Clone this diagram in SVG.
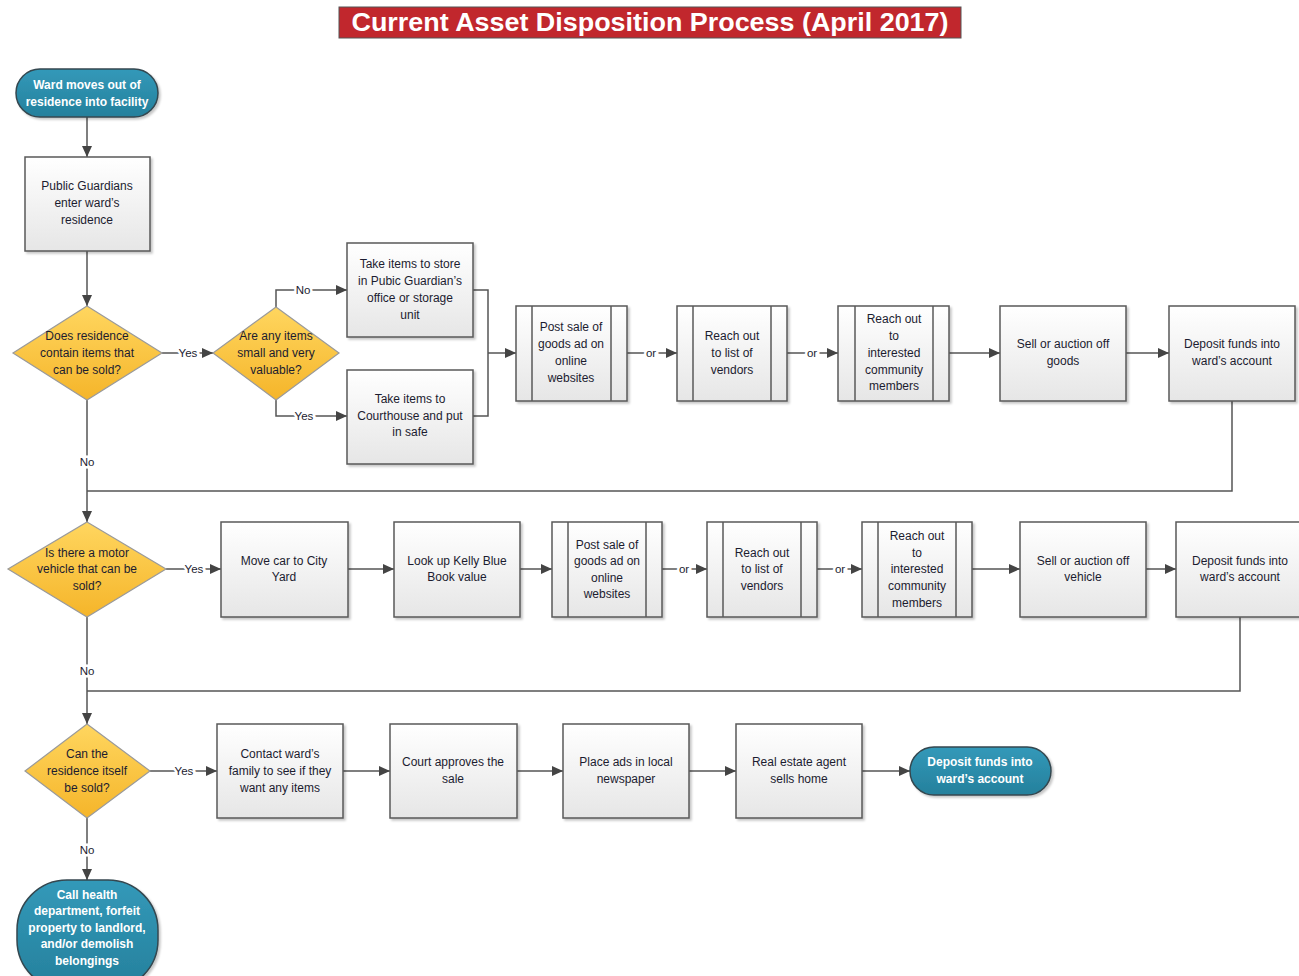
<svg xmlns="http://www.w3.org/2000/svg" width="1299" height="976" viewBox="0 0 1299 976">
  <style>
    .box { fill: url(#boxGrad); stroke: #595959; stroke-width: 1.5; filter: url(#shadow); }
    .band { fill: none; stroke: #595959; stroke-width: 1.5; }
    .dia { fill: url(#diaGrad); stroke: #9a9a9a; stroke-width: 1.2; }
    .term { fill: url(#termGrad); stroke: #34474f; stroke-width: 1.5; filter: url(#shadow); }
    .t { font-family: "Liberation Sans", Arial, sans-serif; font-size: 12px; fill: #1c1c30; text-anchor: middle; }
    .tw { font-family: "Liberation Sans", Arial, sans-serif; font-size: 12px; font-weight: bold; fill: #ffffff; text-anchor: middle; }
    .lbl { font-family: "Liberation Sans", Arial, sans-serif; font-size: 11.5px; fill: #1c1c30; text-anchor: middle; stroke: #ffffff; stroke-width: 5px; paint-order: stroke; }
    .c { fill: none; stroke: #555555; stroke-width: 1.5; }
    .a { marker-end: url(#arrow); }
  </style>
  <defs>
    <linearGradient id="boxGrad" x1="0" y1="0" x2="0" y2="1">
      <stop offset="0" stop-color="#ffffff"/>
      <stop offset="1" stop-color="#e6e6e6"/>
    </linearGradient>
    <linearGradient id="diaGrad" x1="0" y1="0" x2="0" y2="1">
      <stop offset="0" stop-color="#ffd65f"/>
      <stop offset="1" stop-color="#f5b52a"/>
    </linearGradient>
    <linearGradient id="termGrad" x1="0" y1="0" x2="0" y2="1">
      <stop offset="0" stop-color="#3399b9"/>
      <stop offset="1" stop-color="#25809c"/>
    </linearGradient>
    <filter id="shadow" x="-10%" y="-10%" width="130%" height="130%">
      <feDropShadow dx="2" dy="2" stdDeviation="1.2" flood-color="#000000" flood-opacity="0.22"/>
    </filter>
    <marker id="arrow" markerUnits="userSpaceOnUse" markerWidth="12" markerHeight="10" refX="11" refY="5" orient="auto">
      <path d="M0,0 L11,5 L0,10 z" fill="#444444"/>
    </marker>
  </defs>

  <rect width="1299" height="976" fill="#ffffff"/>

  <!-- title banner -->
  <g id="title">
    <rect x="339" y="7" width="622" height="31" fill="#c1272d" stroke="#555555" stroke-width="1"/>
    <text x="650" y="31" font-family="'Liberation Sans', Arial, sans-serif" font-size="25" font-weight="bold" fill="#ffffff" text-anchor="middle" textLength="597" lengthAdjust="spacingAndGlyphs">Current Asset Disposition Process (April 2017)</text>
  </g>

  <!-- connectors -->
  <g id="connectors">
    <path class="c a" d="M87,117 V157"/>
    <path class="c a" d="M87,251 V306"/>
    <path class="c a" d="M162,353 H213"/>
    <path class="c a" d="M276,307 V290 H347"/>
    <path class="c a" d="M276,400 V416 H347"/>
    <path class="c" d="M473,290 H488 V416 H473"/>
    <path class="c a" d="M488,353 H516"/>
    <path class="c a" d="M627,353 H677"/>
    <path class="c a" d="M787,353 H838"/>
    <path class="c a" d="M949,353 H1000"/>
    <path class="c a" d="M1126,353 H1169"/>
    <path class="c" d="M1232,401 V491 H87"/>
    <path class="c a" d="M87,400 V522"/>

    <path class="c a" d="M166,569 H221"/>
    <path class="c a" d="M348,569 H394"/>
    <path class="c a" d="M520,569 H552"/>
    <path class="c a" d="M662,569 H707"/>
    <path class="c a" d="M817,569 H862"/>
    <path class="c a" d="M972,569 H1020"/>
    <path class="c a" d="M1146,569 H1176"/>
    <path class="c" d="M1240,617 V691 H87"/>
    <path class="c a" d="M87,617 V724"/>

    <path class="c a" d="M150,771 H217"/>
    <path class="c a" d="M343,771 H390"/>
    <path class="c a" d="M517,771 H563"/>
    <path class="c a" d="M689,771 H736"/>
    <path class="c a" d="M862,771 H910"/>
    <path class="c a" d="M87,818 V880"/>

    <text class="lbl" x="188" y="357">Yes</text>
    <text class="lbl" x="303" y="294">No</text>
    <text class="lbl" x="304" y="420">Yes</text>
    <text class="lbl" x="651" y="357">or</text>
    <text class="lbl" x="812" y="357">or</text>
    <text class="lbl" x="87" y="466">No</text>
    <text class="lbl" x="194" y="573">Yes</text>
    <text class="lbl" x="684" y="573">or</text>
    <text class="lbl" x="840" y="573">or</text>
    <text class="lbl" x="87" y="675">No</text>
    <text class="lbl" x="184" y="775">Yes</text>
    <text class="lbl" x="87" y="854">No</text>
  </g>

  <!-- start -->
  <g id="start">
    <rect class="term" x="16" y="69" width="142" height="48" rx="24"/>
    <text class="tw" x="87" y="89">Ward moves out of</text>
    <text class="tw" x="87" y="106">residence into facility</text>
  </g>

  <g id="enter-residence">
    <rect class="box" x="25" y="157" width="125" height="94"/>
    <text class="t" x="87" y="190">Public Guardians</text>
    <text class="t" x="87" y="207">enter ward’s</text>
    <text class="t" x="87" y="224">residence</text>
  </g>

  <g id="items-to-sell">
    <polygon class="dia" points="87,306 162,353 87,400 13,353"/>
    <text class="t" x="87" y="340">Does residence</text>
    <text class="t" x="87" y="357">contain items that</text>
    <text class="t" x="87" y="374">can be sold?</text>
  </g>

  <g id="small-valuable">
    <polygon class="dia" points="276,307 339,353 276,400 213,353"/>
    <text class="t" x="276" y="340">Are any items</text>
    <text class="t" x="276" y="357">small and very</text>
    <text class="t" x="276" y="374">valuable?</text>
  </g>

  <g id="store-items">
    <rect class="box" x="347" y="243" width="126" height="94"/>
    <text class="t" x="410" y="268">Take items to store</text>
    <text class="t" x="410" y="285">in Pubic Guardian’s</text>
    <text class="t" x="410" y="302">office or storage</text>
    <text class="t" x="410" y="319">unit</text>
  </g>

  <g id="courthouse-safe">
    <rect class="box" x="347" y="370" width="126" height="94"/>
    <text class="t" x="410" y="403">Take items to</text>
    <text class="t" x="410" y="420">Courthouse and put</text>
    <text class="t" x="410" y="436">in safe</text>
  </g>

  <g id="goods-post-online">
    <rect class="box" x="516" y="306" width="111" height="95"/>
    <path class="band" d="M532,306 V401 M611,306 V401"/>
    <text class="t" x="571" y="331">Post sale of</text>
    <text class="t" x="571" y="348">goods ad on</text>
    <text class="t" x="571" y="365">online</text>
    <text class="t" x="571" y="382">websites</text>
  </g>

  <g id="goods-vendors">
    <rect class="box" x="677" y="306" width="110" height="95"/>
    <path class="band" d="M693,306 V401 M771,306 V401"/>
    <text class="t" x="732" y="340">Reach out</text>
    <text class="t" x="732" y="357">to list of</text>
    <text class="t" x="732" y="374">vendors</text>
  </g>

  <g id="goods-community">
    <rect class="box" x="838" y="306" width="111" height="95"/>
    <path class="band" d="M855,306 V401 M933,306 V401"/>
    <text class="t" x="894" y="323">Reach out</text>
    <text class="t" x="894" y="340">to</text>
    <text class="t" x="894" y="357">interested</text>
    <text class="t" x="894" y="374">community</text>
    <text class="t" x="894" y="390">members</text>
  </g>

  <g id="sell-goods">
    <rect class="box" x="1000" y="306" width="126" height="95"/>
    <text class="t" x="1063" y="348">Sell or auction off</text>
    <text class="t" x="1063" y="365">goods</text>
  </g>

  <g id="deposit-goods">
    <rect class="box" x="1169" y="306" width="126" height="95"/>
    <text class="t" x="1232" y="348">Deposit funds into</text>
    <text class="t" x="1232" y="365">ward’s account</text>
  </g>

  <g id="vehicle">
    <polygon class="dia" points="87,522 166,569 87,617 8,569"/>
    <text class="t" x="87" y="557">Is there a motor</text>
    <text class="t" x="87" y="573">vehicle that can be</text>
    <text class="t" x="87" y="590">sold?</text>
  </g>

  <g id="move-car">
    <rect class="box" x="221" y="522" width="127" height="95"/>
    <text class="t" x="284" y="565">Move car to City</text>
    <text class="t" x="284" y="581">Yard</text>
  </g>

  <g id="kelly-blue-book">
    <rect class="box" x="394" y="522" width="126" height="95"/>
    <text class="t" x="457" y="565">Look up Kelly Blue</text>
    <text class="t" x="457" y="581">Book value</text>
  </g>

  <g id="vehicle-post-online">
    <rect class="box" x="552" y="522" width="110" height="95"/>
    <path class="band" d="M568,522 V617 M646,522 V617"/>
    <text class="t" x="607" y="549">Post sale of</text>
    <text class="t" x="607" y="565">goods ad on</text>
    <text class="t" x="607" y="582">online</text>
    <text class="t" x="607" y="598">websites</text>
  </g>

  <g id="vehicle-vendors">
    <rect class="box" x="707" y="522" width="110" height="95"/>
    <path class="band" d="M723,522 V617 M801,522 V617"/>
    <text class="t" x="762" y="557">Reach out</text>
    <text class="t" x="762" y="573">to list of</text>
    <text class="t" x="762" y="590">vendors</text>
  </g>

  <g id="vehicle-community">
    <rect class="box" x="862" y="522" width="110" height="95"/>
    <path class="band" d="M878,522 V617 M956,522 V617"/>
    <text class="t" x="917" y="540">Reach out</text>
    <text class="t" x="917" y="557">to</text>
    <text class="t" x="917" y="573">interested</text>
    <text class="t" x="917" y="590">community</text>
    <text class="t" x="917" y="607">members</text>
  </g>

  <g id="sell-vehicle">
    <rect class="box" x="1020" y="522" width="126" height="95"/>
    <text class="t" x="1083" y="565">Sell or auction off</text>
    <text class="t" x="1083" y="581">vehicle</text>
  </g>

  <g id="deposit-vehicle">
    <rect class="box" x="1176" y="522" width="126" height="95"/>
    <text class="t" x="1240" y="565">Deposit funds into</text>
    <text class="t" x="1240" y="581">ward’s account</text>
  </g>

  <g id="residence-sale">
    <polygon class="dia" points="87,724 150,771 87,818 25,771"/>
    <text class="t" x="87" y="758">Can the</text>
    <text class="t" x="87" y="775">residence itself</text>
    <text class="t" x="87" y="792">be sold?</text>
  </g>

  <g id="contact-family">
    <rect class="box" x="217" y="724" width="126" height="94"/>
    <text class="t" x="280" y="758">Contact ward’s</text>
    <text class="t" x="280" y="775">family to see if they</text>
    <text class="t" x="280" y="792">want any items</text>
  </g>

  <g id="court-approves">
    <rect class="box" x="390" y="724" width="127" height="94"/>
    <text class="t" x="453" y="766">Court approves the</text>
    <text class="t" x="453" y="783">sale</text>
  </g>

  <g id="newspaper-ads">
    <rect class="box" x="563" y="724" width="126" height="94"/>
    <text class="t" x="626" y="766">Place ads in local</text>
    <text class="t" x="626" y="783">newspaper</text>
  </g>

  <g id="agent-sells">
    <rect class="box" x="736" y="724" width="126" height="94"/>
    <text class="t" x="799" y="766">Real estate agent</text>
    <text class="t" x="799" y="783">sells home</text>
  </g>

  <g id="deposit-home">
    <rect class="term" x="910" y="747" width="141" height="48" rx="24"/>
    <text class="tw" x="980" y="766">Deposit funds into</text>
    <text class="tw" x="980" y="783">ward’s account</text>
  </g>

  <g id="forfeit">
    <rect class="term" x="17" y="880" width="141" height="110" rx="50"/>
    <text class="tw" x="87" y="899">Call health</text>
    <text class="tw" x="87" y="915">department, forfeit</text>
    <text class="tw" x="87" y="932">property to landlord,</text>
    <text class="tw" x="87" y="948">and/or demolish</text>
    <text class="tw" x="87" y="965">belongings</text>
  </g>
</svg>
